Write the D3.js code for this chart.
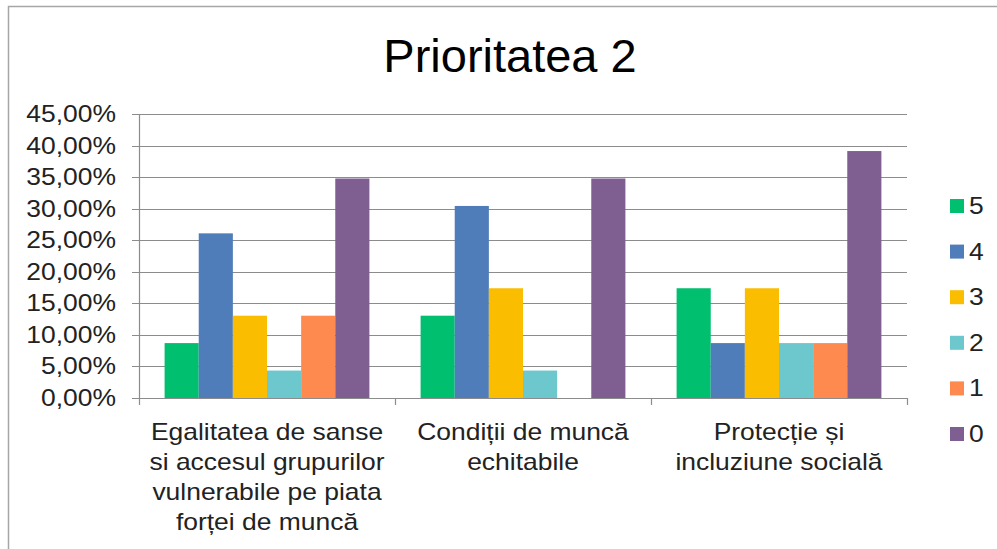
<!DOCTYPE html>
<html>
<head>
<meta charset="utf-8">
<script src="https://cdn.jsdelivr.net/npm/d3@7"></script>
<style>
  body { margin: 0; background: #fff; }
  text { font-family: "Liberation Sans", Arial, sans-serif; fill: #222; }
</style>
</head>
<body>
<script>
"use strict"

const title = "Prioritatea 2"

const categories = [
  ["Egalitatea de sanse", "si accesul grupurilor", "vulnerabile pe piata", "forței de muncă"],
  ["Condiții de muncă", "echitabile"],
  ["Protecție și", "incluziune socială"],
]

const seriesNames = ["5", "4", "3", "2", "1", "0"]
const seriesColors = ["#00bf6f", "#4f7dba", "#fbbd00", "#6cc8cc", "#ff8a50", "#7f5f91"]

// percent values, one array per series (order of categories)
const s5 = [8.70, 13.04, 17.39]
const s4 = [26.09, 30.43, 8.70]
const s3 = [13.04, 17.39, 17.39]
const s2 = [4.35, 4.35, 8.70]
const s1 = [13.04, 0, 8.70]
const s0 = [34.78, 34.78, 39.13]
const series = [s5, s4, s3, s2, s1, s0]

const yTicks = [0, 5, 10, 15, 20, 25, 30, 35, 40, 45]

const width = 997
const height = 549
const margin = { top: 114, right: 90, bottom: 151, left: 139 }
const stretch = 1.15   // labels in the source are drawn a bit wide

const svg = d3.select("body").append("svg")
  .attr("width", width)
  .attr("height", height)

// outer chart border (left + top visible)
svg.append("path")
  .attr("d", `M8.5,${height} V6.5 H${width}`)
  .attr("fill", "none")
  .attr("stroke", "#a6a6a6")
  .attr("stroke-width", 1.5)

svg.append("text")
  .text(title)
  .attr("x", 510)
  .attr("y", 72)
  .attr("text-anchor", "middle")
  .attr("font-size", 47)
  .style("fill", "#000")

const x0 = d3.scaleBand()
  .domain(d3.range(categories.length))
  .range([margin.left, width - margin.right])

const x1 = d3.scaleBand()
  .domain(d3.range(seriesNames.length))
  .range([0, x0.bandwidth()])
  .paddingOuter(0.75)
  .paddingInner(0)

const y = d3.scaleLinear()
  .domain([0, 45])
  .range([height - margin.bottom, margin.top])

// gridlines
svg.append("g")
  .selectAll("line")
  .data(yTicks)
  .join("line")
  .attr("x1", margin.left - 7)
  .attr("x2", width - margin.right)
  .attr("y1", d => Math.round(y(d)) + 0.5)
  .attr("y2", d => Math.round(y(d)) + 0.5)
  .attr("stroke", "#8c8c8c")
  .attr("stroke-width", 1.2)

// y labels
svg.append("g")
  .selectAll("text")
  .data(yTicks)
  .join("text")
  .text(d => d3.format(".2f")(d).replace(".", ",") + "%")
  .attr("transform", d => `translate(${margin.left - 23},${y(d) + 8}) scale(${stretch},1)`)
  .attr("text-anchor", "end")
  .attr("font-size", 23)

// bars
const groups = svg.append("g")
  .selectAll("g")
  .data(categories)
  .join("g")
  .attr("transform", (_, i) => `translate(${x0(i)},0)`)

groups.selectAll("rect")
  .data((_, ci) => series.map((s, si) => ({ si, v: s[ci] })))
  .join("rect")
  .attr("x", d => x1(d.si))
  .attr("width", x1.bandwidth())
  .attr("y", d => y(d.v))
  .attr("height", d => y(0) - y(d.v))
  .attr("fill", d => seriesColors[d.si])

// axes lines
svg.append("line")
  .attr("x1", margin.left + 0.5).attr("x2", margin.left + 0.5)
  .attr("y1", margin.top).attr("y2", y(0))
  .attr("stroke", "#8c8c8c").attr("stroke-width", 1.2)

svg.append("line")
  .attr("x1", margin.left).attr("x2", width - margin.right)
  .attr("y1", Math.round(y(0)) + 0.5).attr("y2", Math.round(y(0)) + 0.5)
  .attr("stroke", "#8c8c8c").attr("stroke-width", 1.2)

// category ticks
svg.append("g")
  .selectAll("line")
  .data(d3.range(categories.length + 1))
  .join("line")
  .attr("x1", i => (i < categories.length ? x0(i) : x0(i - 1) + x0.bandwidth()) + 0.5)
  .attr("x2", i => (i < categories.length ? x0(i) : x0(i - 1) + x0.bandwidth()) + 0.5)
  .attr("y1", y(0))
  .attr("y2", y(0) + 7)
  .attr("stroke", "#8c8c8c")
  .attr("stroke-width", 1.2)

// category labels
groups.append("text")
  .attr("transform", `translate(${x0.bandwidth() / 2},0) scale(${stretch},1)`)
  .attr("text-anchor", "middle")
  .attr("font-size", 23)
  .selectAll("tspan")
  .data(d => d)
  .join("tspan")
  .attr("x", 0)
  .attr("y", (_, i) => 440 + i * 30)
  .text(d => d)

// legend
const legend = svg.append("g")
  .selectAll("g")
  .data(seriesNames)
  .join("g")
  .attr("transform", (_, i) => `translate(950,${206 + i * 45.6})`)

legend.append("rect")
  .attr("x", 0).attr("y", -7)
  .attr("width", 14).attr("height", 14)
  .attr("fill", (_, i) => seriesColors[i])

legend.append("text")
  .text(d => d)
  .attr("transform", `translate(19,8) scale(${stretch},1)`)
  .attr("font-size", 23)
</script>
</body>
</html>
